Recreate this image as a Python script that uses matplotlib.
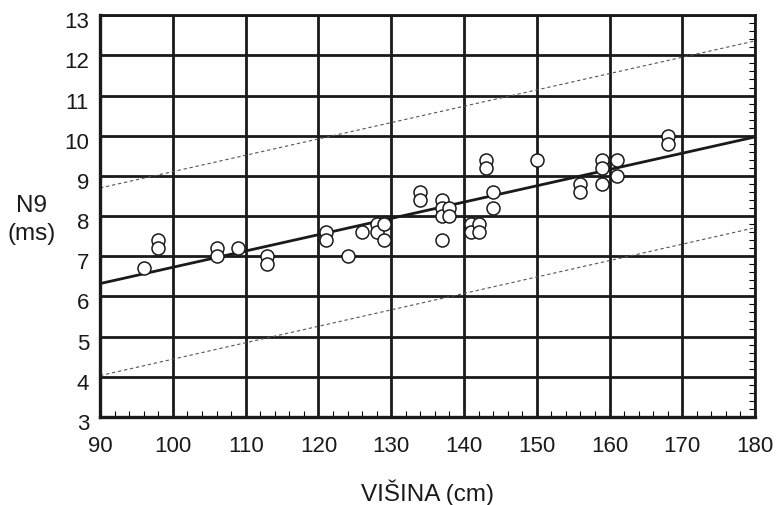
import matplotlib
matplotlib.use("Agg")
import matplotlib.pyplot as plt
from matplotlib.ticker import MultipleLocator
from matplotlib.transforms import ScaledTranslation

plt.rcParams["font.family"] = ["Liberation Sans", "DejaVu Sans"]

# measured points: height (cm) vs N9 latency (ms)
height = [96, 98, 98, 106, 106, 109, 113, 113, 121, 121, 124, 126, 128, 128,
          129, 129, 134, 134, 137, 137, 137, 137, 138, 138, 141, 141, 142, 142,
          143, 143, 144, 144, 150, 156, 156, 159, 159, 159, 161, 161, 168, 168]
n9 = [6.7, 7.4, 7.2, 7.2, 7.0, 7.2, 7.0, 6.8, 7.6, 7.4, 7.0, 7.6, 7.8, 7.6,
      7.8, 7.4, 8.6, 8.4, 8.4, 8.2, 8.0, 7.4, 8.2, 8.0, 7.8, 7.6, 7.8, 7.6,
      9.4, 9.2, 8.6, 8.2, 9.4, 8.8, 8.6, 9.4, 9.2, 8.8, 9.4, 9.0, 10.0, 9.8]

# regression line and prediction limits (end points at x = 90 and 180)
fit_x = [90, 180]
fit_y = [6.32, 9.97]
upper_y = [8.70, 12.36]
lower_y = [4.03, 7.71]

fig = plt.figure(figsize=(7.76, 5.06), dpi=100)
ax = fig.add_axes([0.129, 0.174, 0.844, 0.794])

ax.set_xlim(90, 180)
ax.set_ylim(3, 13)
ax.xaxis.set_major_locator(MultipleLocator(10))
ax.xaxis.set_minor_locator(MultipleLocator(2))
ax.yaxis.set_major_locator(MultipleLocator(1))
ax.yaxis.set_minor_locator(MultipleLocator(0.2))

ax.grid(True, which="major", color="#1a1a1a", linewidth=2.0, zorder=1)

ax.plot(fit_x, upper_y, color="#555555", linewidth=0.8, linestyle=(0, (3, 2.5)), zorder=2)
ax.plot(fit_x, lower_y, color="#555555", linewidth=0.8, linestyle=(0, (3, 2.5)), zorder=2)
ax.plot(fit_x, fit_y, color="#1a1a1a", linewidth=2.0, zorder=3)

ax.scatter(height, n9, s=88, facecolor="white", edgecolor="#1a1a1a",
           linewidth=1.1, zorder=4, clip_on=False)

for side in ["left", "bottom"]:
    ax.spines[side].set_linewidth(2.4)
    ax.spines[side].set_color("#1a1a1a")
for side in ["top", "right"]:
    ax.spines[side].set_linewidth(2.0)
    ax.spines[side].set_color("#1a1a1a")

ax.tick_params(axis="x", which="major", length=0, labelsize=16,
               labelcolor="#1a1a1a", pad=13)
ax.tick_params(axis="y", which="major", length=0, labelsize=16,
               labelcolor="#1a1a1a", pad=8)
ax.tick_params(axis="x", which="minor", direction="in", length=4, width=0.8,
               bottom=True, top=False)
ax.tick_params(axis="y", which="minor", direction="in", length=4, width=0.8,
               left=False, right=True)

# y labels sit slightly below their grid lines in the original
shift = ScaledTranslation(0, -4 / 100, fig.dpi_scale_trans)
for tick in ax.yaxis.get_major_ticks():
    tick.label1.set_transform(tick.label1.get_transform() + shift)

fig.text(0.551, 0.010, "VIŠINA (cm)", fontsize=17.5, color="#1a1a1a",
         ha="center", va="baseline")
fig.text(0.041, 0.581, "N9", fontsize=17.5, color="#1a1a1a",
         ha="center", va="baseline")
fig.text(0.041, 0.526, "(ms)", fontsize=17.5, color="#1a1a1a",
         ha="center", va="baseline")

fig.savefig("out.png", dpi=100)
